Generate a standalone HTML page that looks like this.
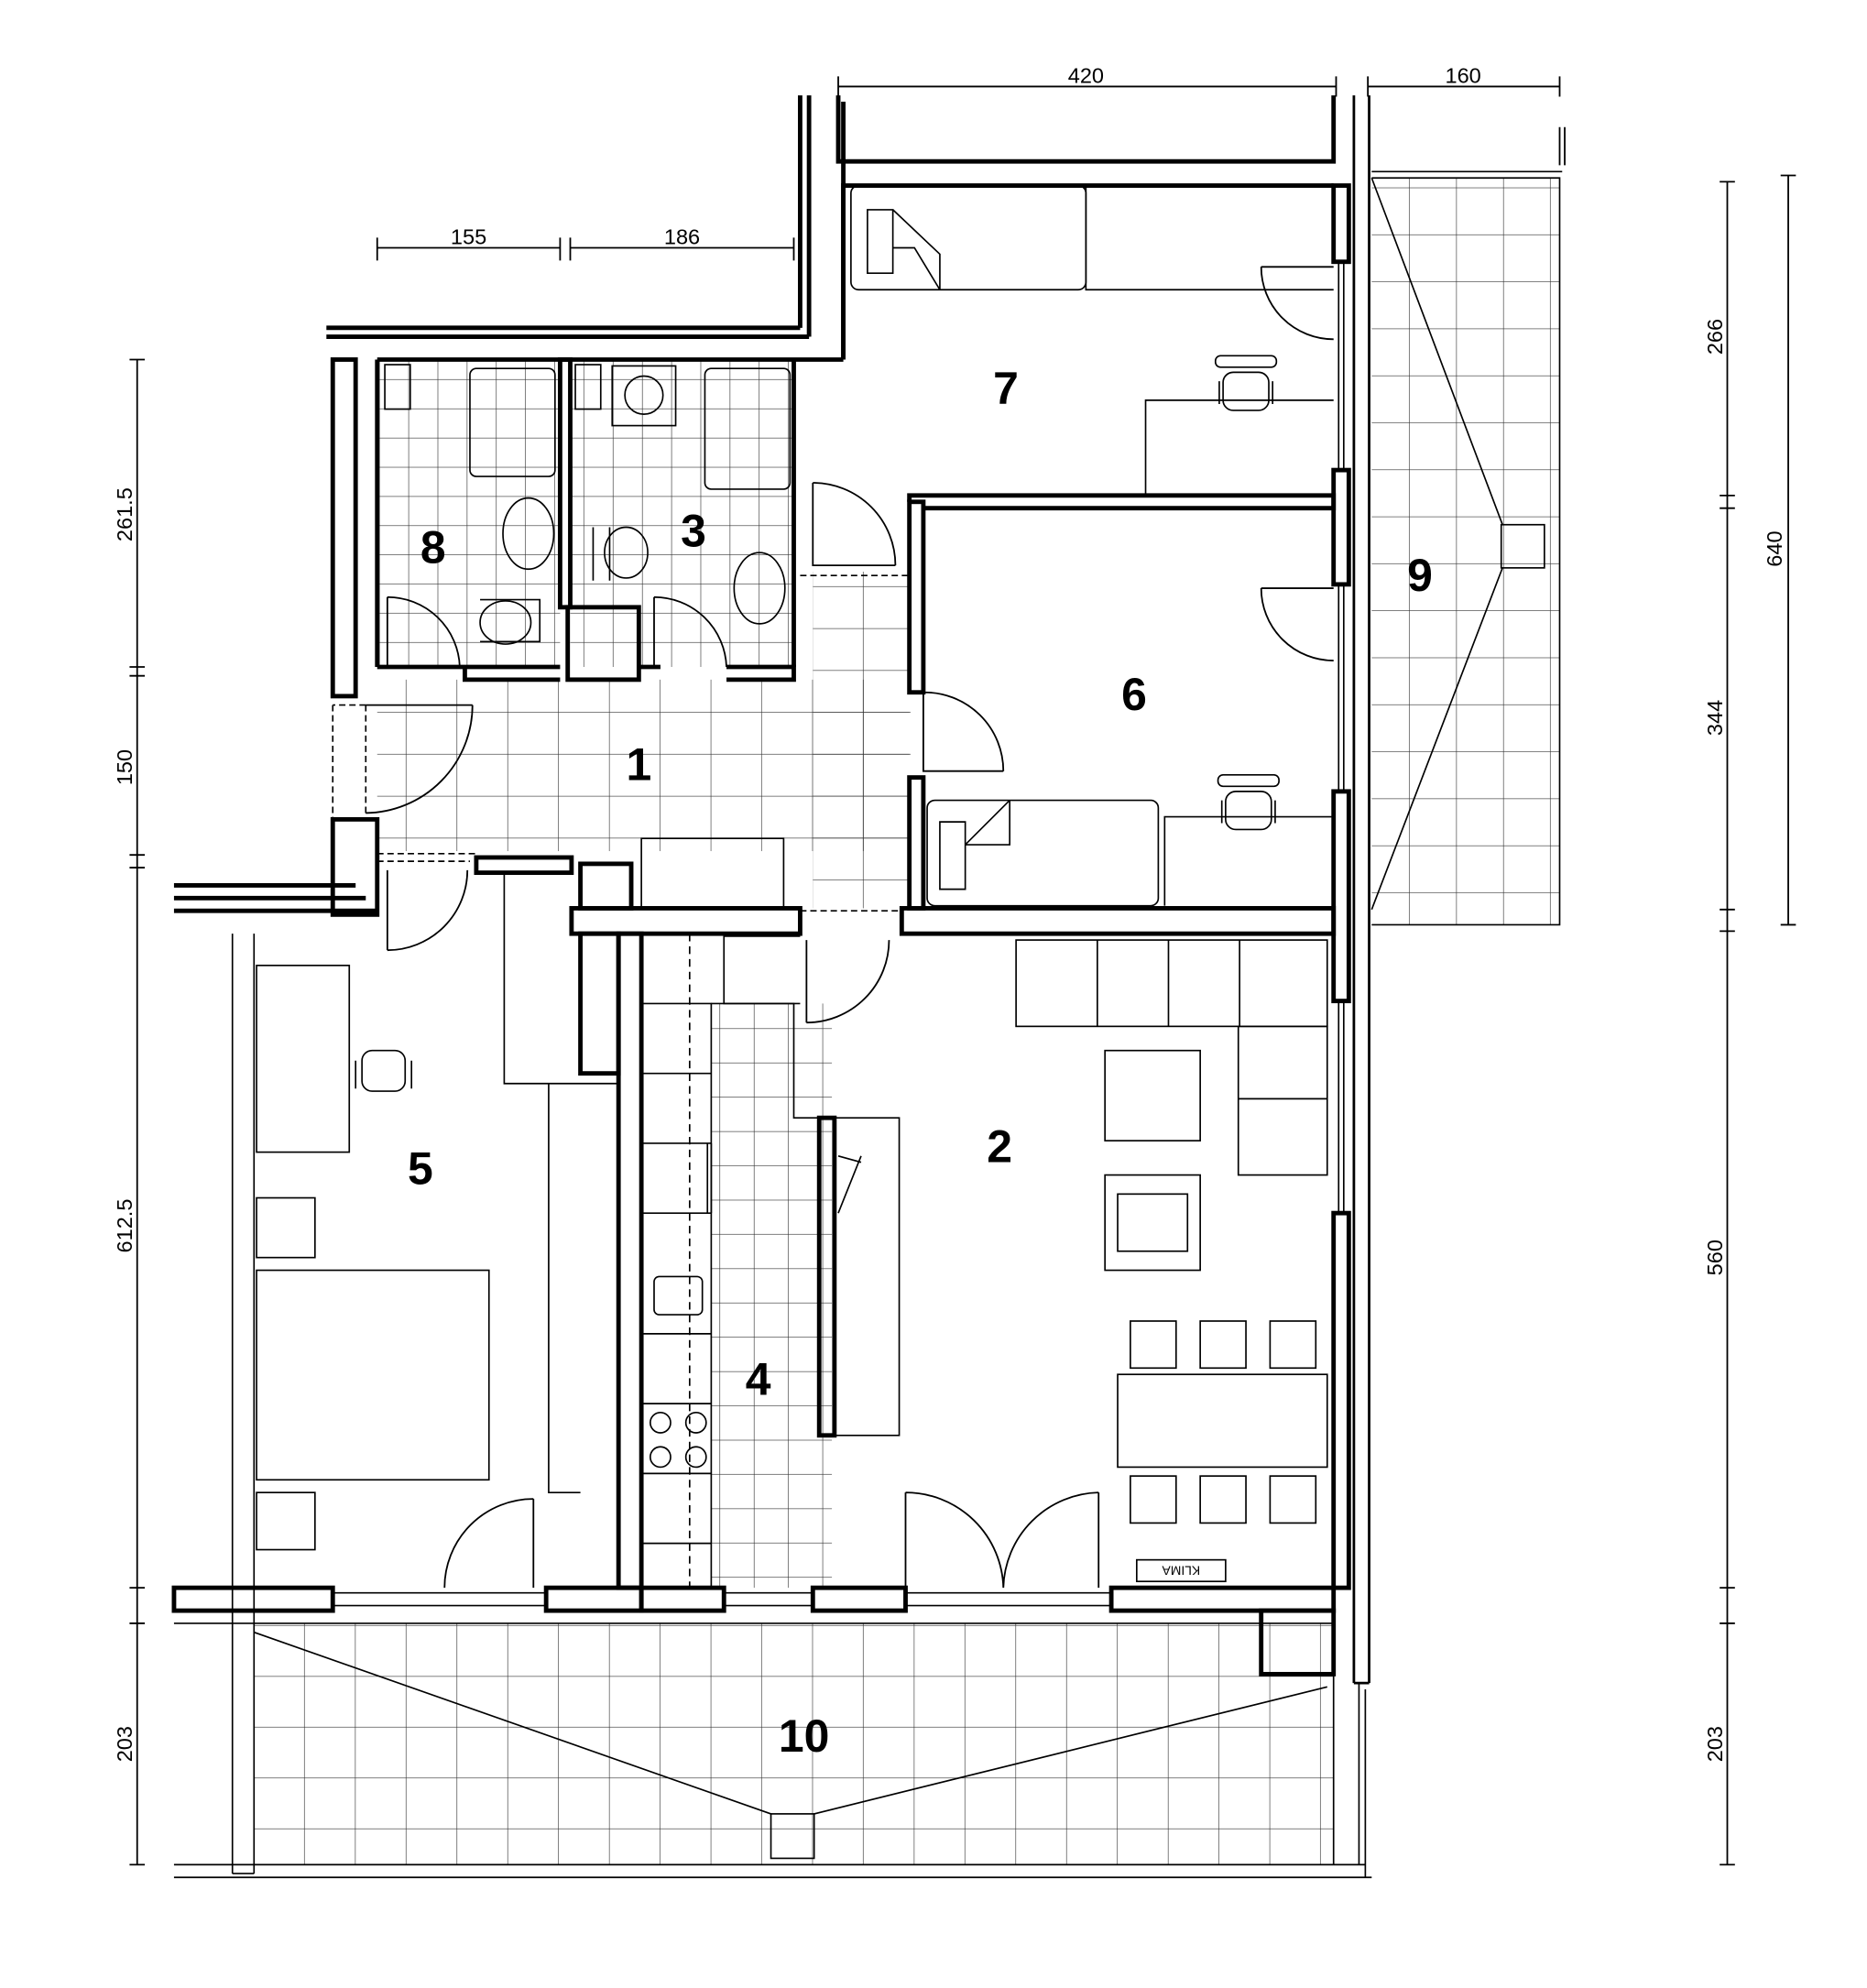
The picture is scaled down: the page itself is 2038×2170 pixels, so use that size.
<!DOCTYPE html>
<html><head><meta charset="utf-8"><style>
html,body{margin:0;padding:0;background:#fff}
svg{display:block}
text{font-family:"Liberation Sans",sans-serif}
.n{font-weight:bold;font-size:36px}
.d{font-size:17px}
</style></head><body>
<svg width="2038" height="2170" viewBox="0 0 1470 1565" xmlns="http://www.w3.org/2000/svg">
<defs>
<pattern id="tb" width="23" height="23" patternUnits="userSpaceOnUse"><path d="M23 0V23H0" fill="none" stroke="#333" stroke-width="0.9"/></pattern>
<pattern id="tc" width="40" height="33" patternUnits="userSpaceOnUse"><path d="M40 0V33H0" fill="none" stroke="#333" stroke-width="0.9"/></pattern>
<pattern id="tk" width="27" height="27" patternUnits="userSpaceOnUse"><path d="M27 0V27H0" fill="none" stroke="#333" stroke-width="0.9"/></pattern>
<pattern id="t9" width="37" height="37" patternUnits="userSpaceOnUse"><path d="M37 0V37H0" fill="none" stroke="#333" stroke-width="0.9"/></pattern>
<pattern id="t10" width="40" height="40" patternUnits="userSpaceOnUse"><path d="M40 0V40H0" fill="none" stroke="#333" stroke-width="0.9"/></pattern>
</defs>
<rect width="1470" height="1565" fill="#fff"/>

<rect x="297" y="283" width="144" height="242" fill="url(#tb)"/>
<rect x="449" y="283" width="176" height="242" fill="url(#tb)"/>
<rect x="297" y="535" width="420" height="135" fill="url(#tc)"/>
<rect x="640" y="450" width="76" height="265" fill="url(#tc)"/>
<rect x="560" y="790" width="95" height="460" fill="url(#tk)"/>
<rect x="1080" y="140" width="148" height="588" fill="url(#t9)"/>
<rect x="200" y="1278" width="850" height="190" fill="url(#t10)"/>

<g fill="none" stroke="#000">
<g stroke-width="1.3">
<path d="M660 68H1052M1077 68H1228M297 195H441M449 195H625"/>
<path d="M660 60V76M1052 60V76M1077 60V76M1228 60V76M297 187V205M441 187V205M449 187V205M625 187V205"/>
<path d="M108 283V1468M102 283h12M102 525h12M102 532h12M102 673h12M102 683h12M102 1250h12M102 1278h12M102 1468h12"/>
<path d="M1360 143V1468M1354 143h12M1354 390h12M1354 400h12M1354 716h12M1354 733h12M1354 1250h12M1354 1278h12M1354 1468h12"/>
<path d="M1408 138V728M1402 138h12M1402 728h12"/>
<path d="M1228 100V130M1232 100V130"/>
</g>
<g stroke-width="3.5">
<path d="M660 75V127H1050V75"/>
<path d="M630 75V258M637 75V265"/>
<path d="M664 80V283"/>
<path d="M257 258H630M257 265H637"/>
<path d="M297 283H664M664 283V146H1050"/>
<rect x="262" y="283" width="18" height="265"/>
<path d="M297 283V525"/>
<rect x="441" y="283" width="8" height="195"/>
<path d="M625 283V525"/>
<rect x="447" y="478" width="56" height="57"/>
<path d="M297 525H441M366 525V535H441M503 525H520M572 525H625V535H572"/>
<rect x="262" y="645" width="35" height="75"/>
<path d="M137 697H280M137 707H288M137 717H297"/>
<rect x="716" y="395" width="11" height="150"/>
<rect x="716" y="612" width="11" height="103"/>
<path d="M716 395V390H1050V400H727"/>
<rect x="710" y="715" width="340" height="20"/>
<rect x="450" y="715" width="180" height="20"/>
<rect x="375" y="675" width="75" height="12"/>
<rect x="457" y="680" width="40" height="35"/>
<rect x="487" y="735" width="18" height="515"/>
<rect x="457" y="735" width="30" height="110"/>
<rect x="1050" y="146" width="12" height="60"/>
<rect x="1050" y="370" width="12" height="90"/>
<rect x="1050" y="623" width="12" height="165"/>
<rect x="1050" y="955" width="12" height="295"/>
<rect x="137" y="1250" width="125" height="18"/>
<rect x="430" y="1250" width="75" height="18"/>
<rect x="505" y="1250" width="65" height="18"/>
<rect x="640" y="1250" width="73" height="18"/>
<rect x="875" y="1250" width="175" height="18"/>
<rect x="993" y="1268" width="57" height="50"/>
<rect x="645" y="880" width="12" height="250"/>
</g>
<path d="M1066 75V1325M1078 75V1325M1066 1325H1078" stroke-width="2"/>
<g stroke-width="1.2">
<path d="M1054 206V370M1058 206V370M1054 460V623M1058 460V623M1054 788V955M1058 788V955"/>
<path d="M262 1254H430M262 1264H430M570 1254H640M570 1264H640M713 1254H875M713 1264H875"/>
<path d="M137 1468H1075M137 1478H1080M1075 1330V1478M1070 1325V1468"/>
<path d="M183 735V1475M200 735V1475M183 1475H200M137 1278H200"/>
<path d="M1080 140H1228V728H1080M1080 135H1230"/>
<path d="M1080 140L1183 413M1080 716L1183 447"/>
<rect x="1182" y="413" width="34" height="34"/>
<path d="M200 1285L607 1428M1045 1328L641 1428M200 1278H1050V1468"/>
<rect x="607" y="1428" width="34" height="35"/>
<rect x="670" y="146" width="185" height="82" rx="6"/>
<path d="M683 165H703V215H683ZM703 165L740 200V228M703 195L720 195L740 228"/>
<path d="M855 146V228H1050M902 390V315H1050"/>
<g><rect x="963" y="293" width="36" height="30" rx="8"/><path d="M960 300V318M1002 300V318"/><rect x="957" y="280" width="48" height="9" rx="4"/></g>
<g transform="translate(2 330)"><rect x="963" y="293" width="36" height="30" rx="8"/><rect x="957" y="280" width="48" height="9" rx="4"/><path d="M960 300V318M1002 300V318"/></g>
<g transform="translate(-678 537)"><rect x="963" y="290" width="34" height="32" rx="8"/><path d="M958 298V320M1002 298V320"/></g>
<rect x="730" y="630" width="182" height="83" rx="6"/>
<path d="M740 647H760V700H740ZM760 665L795 630M760 665H795V630"/>
<path d="M917 713V643H1050"/>
<path d="M288 555V640M262 555V645M288 555H262" stroke-dasharray="5 3"/>
<path d="M297 672H375M297 678H370" stroke-dasharray="5 3"/>
<rect x="505" y="660" width="112" height="55"/>
<path d="M630 453H716" stroke-dasharray="5 3"/>
<path d="M630 717H710" stroke-dasharray="5 3"/>
<rect x="202" y="760" width="73" height="147"/>
<rect x="202" y="943" width="46" height="47"/>
<rect x="202" y="1000" width="183" height="165"/>
<rect x="202" y="1175" width="46" height="45"/>
<path d="M397 687V853H487M432 853V1175H457"/>
<path d="M505 790H560V1250M505 845H560M505 900H560M505 955H560M505 1050H560M505 1105H560M505 1160H560M505 1215H560"/>
<path d="M543 735V1250" stroke-dasharray="6 4"/>
<path d="M570 735V790H630M570 737H630"/>
<path d="M560 790H625V880H645M657 880H708V1130H657"/>
<rect x="515" y="1005" width="38" height="30" rx="4"/>
<circle cx="520" cy="1120" r="8"/><circle cx="548" cy="1120" r="8"/><circle cx="520" cy="1147" r="8"/><circle cx="548" cy="1147" r="8"/>
<path d="M557 900V955M560 900V955M660 910L678 915M660 955L678 910"/>
<rect x="800" y="740" width="245" height="68"/>
<path d="M864 740V808M920 740V808M976 740V808"/>
<rect x="975" y="808" width="70" height="117"/>
<path d="M975 865H1045"/>
<rect x="870" y="827" width="75" height="71"/>
<rect x="870" y="925" width="75" height="75"/>
<rect x="880" y="940" width="55" height="45"/>
<rect x="880" y="1082" width="165" height="73"/>
<rect x="890" y="1040" width="36" height="37"/><rect x="945" y="1040" width="36" height="37"/><rect x="1000" y="1040" width="36" height="37"/>
<rect x="890" y="1162" width="36" height="37"/><rect x="945" y="1162" width="36" height="37"/><rect x="1000" y="1162" width="36" height="37"/>
<rect x="895" y="1228" width="70" height="17"/>
<rect x="370" y="290" width="67" height="85" rx="5"/>
<rect x="555" y="290" width="67" height="95" rx="5"/>
<rect x="303" y="287" width="20" height="35"/>
<rect x="453" y="287" width="20" height="35"/>
<rect x="482" y="288" width="50" height="47"/><circle cx="507" cy="311" r="15"/>
<ellipse cx="416" cy="420" rx="20" ry="28"/>
<ellipse cx="493" cy="435" rx="17" ry="20"/><path d="M467 415V457M480 415V457"/>
<ellipse cx="398" cy="490" rx="20" ry="17"/><path d="M378 472H425V505H378"/>
<ellipse cx="598" cy="463" rx="20" ry="28"/>
</g>
</g>
<g fill="none" stroke="#000" stroke-width="1.3">
<path d="M993 210H1050M993 210A57 57 0 0 0 1050 267"/>
<path d="M993 463H1050M993 463A57 57 0 0 0 1050 520"/>
<path d="M727 545V607H790M727 545A62 62 0 0 1 790 607"/>
<path d="M640 380V445H705M640 380A65 65 0 0 1 705 445"/>
<path d="M305 470V525M305 470A57 57 0 0 1 362 525"/>
<path d="M515 470V525M515 470A57 57 0 0 1 572 525"/>
<path d="M288 555H372M372 555A85 85 0 0 1 288 640"/>
<path d="M305 685V748M305 748A63 63 0 0 0 368 685"/>
<path d="M635 740V805M635 805A65 65 0 0 0 700 740"/>
<path d="M420 1180V1250M420 1180A70 70 0 0 0 350 1250"/>
<path d="M713 1175V1250M713 1175A77 77 0 0 1 790 1250M865 1175V1250M865 1175A77 77 0 0 0 790 1250"/>
</g>
<g fill="#000">
<text class="n" x="503" y="614" text-anchor="middle">1</text>
<text class="n" x="787" y="915" text-anchor="middle">2</text>
<text class="n" x="546" y="430" text-anchor="middle">3</text>
<text class="n" x="597" y="1098" text-anchor="middle">4</text>
<text class="n" x="331" y="932" text-anchor="middle">5</text>
<text class="n" x="893" y="559" text-anchor="middle">6</text>
<text class="n" x="792" y="318" text-anchor="middle">7</text>
<text class="n" x="341" y="443" text-anchor="middle">8</text>
<text class="n" x="1118" y="465" text-anchor="middle">9</text>
<text class="n" x="633" y="1379" text-anchor="middle">10</text>
<text class="d" x="855" y="65" text-anchor="middle">420</text>
<text class="d" x="1152" y="65" text-anchor="middle">160</text>
<text class="d" x="369" y="192" text-anchor="middle">155</text>
<text class="d" x="537" y="192" text-anchor="middle">186</text>
<text class="d" transform="translate(104 405) rotate(-90)" text-anchor="middle">261.5</text>
<text class="d" transform="translate(104 604) rotate(-90)" text-anchor="middle">150</text>
<text class="d" transform="translate(104 965) rotate(-90)" text-anchor="middle">612.5</text>
<text class="d" transform="translate(104 1373) rotate(-90)" text-anchor="middle">203</text>
<text class="d" transform="translate(1356 265) rotate(-90)" text-anchor="middle">266</text>
<text class="d" transform="translate(1356 565) rotate(-90)" text-anchor="middle">344</text>
<text class="d" transform="translate(1356 990) rotate(-90)" text-anchor="middle">560</text>
<text class="d" transform="translate(1356 1373) rotate(-90)" text-anchor="middle">203</text>
<text class="d" transform="translate(1403 432) rotate(-90)" text-anchor="middle">640</text>
<text x="930" y="1241" font-size="10" text-anchor="middle" transform="rotate(180 930 1237)">KLIMA</text>
</g>
</svg>
</body></html>
